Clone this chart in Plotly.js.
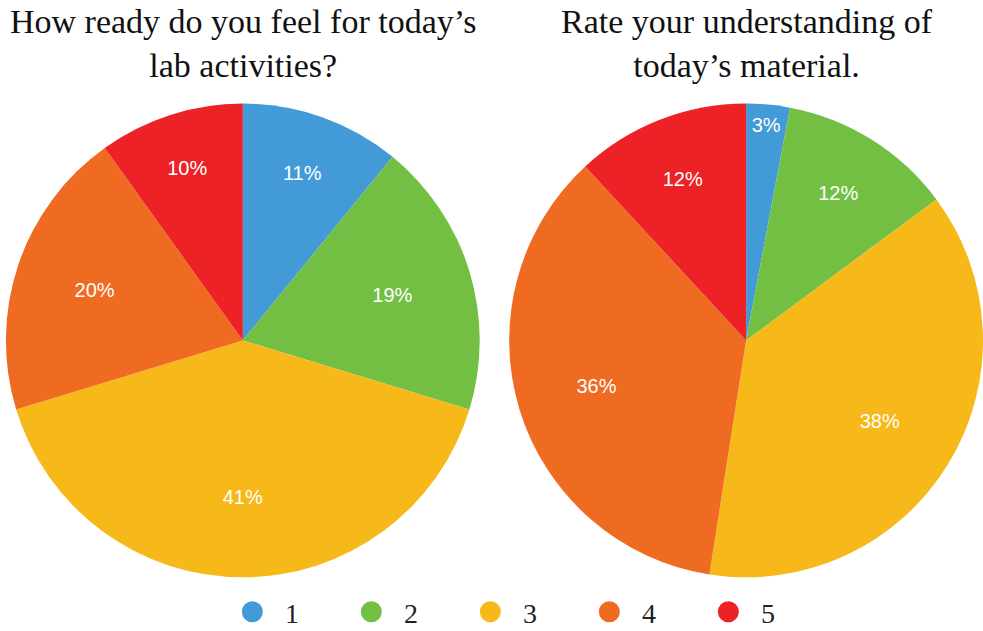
<!DOCTYPE html>
<html>
<head>
<meta charset="utf-8">
<script src="https://cdn.plot.ly/plotly-3.0.1.min.js"></script>
<style>html,body{margin:0;padding:0;background:#fff;} #chart{width:983px;height:631px;}</style>
</head>
<body>
<div id="chart"></div>
<script>
const categories = ["1", "2", "3", "4", "5"];
const colors = ["#429BD6", "#72BF44", "#F7B919", "#F06B22", "#EC2227"];
const readyValues = [11, 19, 41, 20, 10];
const understandValues = [3, 12, 38, 36, 12];
const titleReady = "How ready do you feel for today’s<br>lab activities?";
const titleUnderstand = "Rate your understanding of<br>today’s material.";

const pieDomainY = [0.084, 0.837];

// Filled slices (no text)
function pieTrace(values, domainX) {
  return {
    type: "pie",
    labels: categories,
    values: values,
    textinfo: "none",
    sort: false,
    direction: "clockwise",
    rotation: 0,
    marker: {colors: colors, line: {width: 0}},
    domain: {x: domainX, y: pieDomainY},
    showlegend: false,
    hoverinfo: "label+percent"
  };
}

// Transparent overlay of the same slices that only carries the percentage labels,
// with a hole so the labels sit further out along each slice.
function labelTrace(values, domainX) {
  return {
    type: "pie",
    labels: categories,
    values: values,
    text: values.map(v => v + "%"),
    textinfo: "text",
    textposition: "inside",
    insidetextorientation: "horizontal",
    hole: 0.32,
    sort: false,
    direction: "clockwise",
    rotation: 0,
    marker: {colors: categories.map(() => "rgba(0,0,0,0)"), line: {width: 0}},
    textfont: {family: "Liberation Sans, Arial, sans-serif", size: 20, color: "#ffffff"},
    domain: {x: domainX, y: pieDomainY},
    showlegend: false,
    hoverinfo: "skip"
  };
}

const legendTraces = categories.map((c, i) => ({
  type: "scatter",
  mode: "markers",
  x: [null], y: [null],
  name: "\u00a0\u2009" + c,
  marker: {symbol: "circle", size: 16, color: colors[i], line: {color: colors[i], width: 5}},
  showlegend: true,
  hoverinfo: "skip"
}));

const dom1 = [0.006, 0.488];
const dom2 = [0.518, 1.0];

const data = [
  pieTrace(readyValues, dom1),
  pieTrace(understandValues, dom2),
  labelTrace(readyValues, dom1),
  labelTrace(understandValues, dom2)
].concat(legendTraces);

const layout = {
  width: 983, height: 631,
  margin: {l: 0, r: 0, t: 0, b: 0, autoexpand: false},
  paper_bgcolor: "#ffffff",
  plot_bgcolor: "#ffffff",
  xaxis: {visible: false},
  yaxis: {visible: false},
  showlegend: true,
  legend: {
    orientation: "h",
    x: 0.539, xanchor: "center",
    y: 0.03, yanchor: "middle",
    entrywidth: 74,
    font: {family: "Liberation Serif, Times New Roman, serif", size: 28, color: "#222"},
    itemclick: false
  },
  annotations: [
    {text: titleReady, x: 0.247, y: 0.998, xref: "paper", yref: "paper", xanchor: "center", yanchor: "top",
     showarrow: false, font: {family: "Liberation Serif, Times New Roman, serif", size: 34, color: "#111"}},
    {text: titleUnderstand, x: 0.76, y: 0.998, xref: "paper", yref: "paper", xanchor: "center", yanchor: "top",
     showarrow: false, font: {family: "Liberation Serif, Times New Roman, serif", size: 34, color: "#111"}}
  ]
};

Plotly.newPlot("chart", data, layout, {displayModeBar: false, staticPlot: true});
</script>
</body>
</html>
